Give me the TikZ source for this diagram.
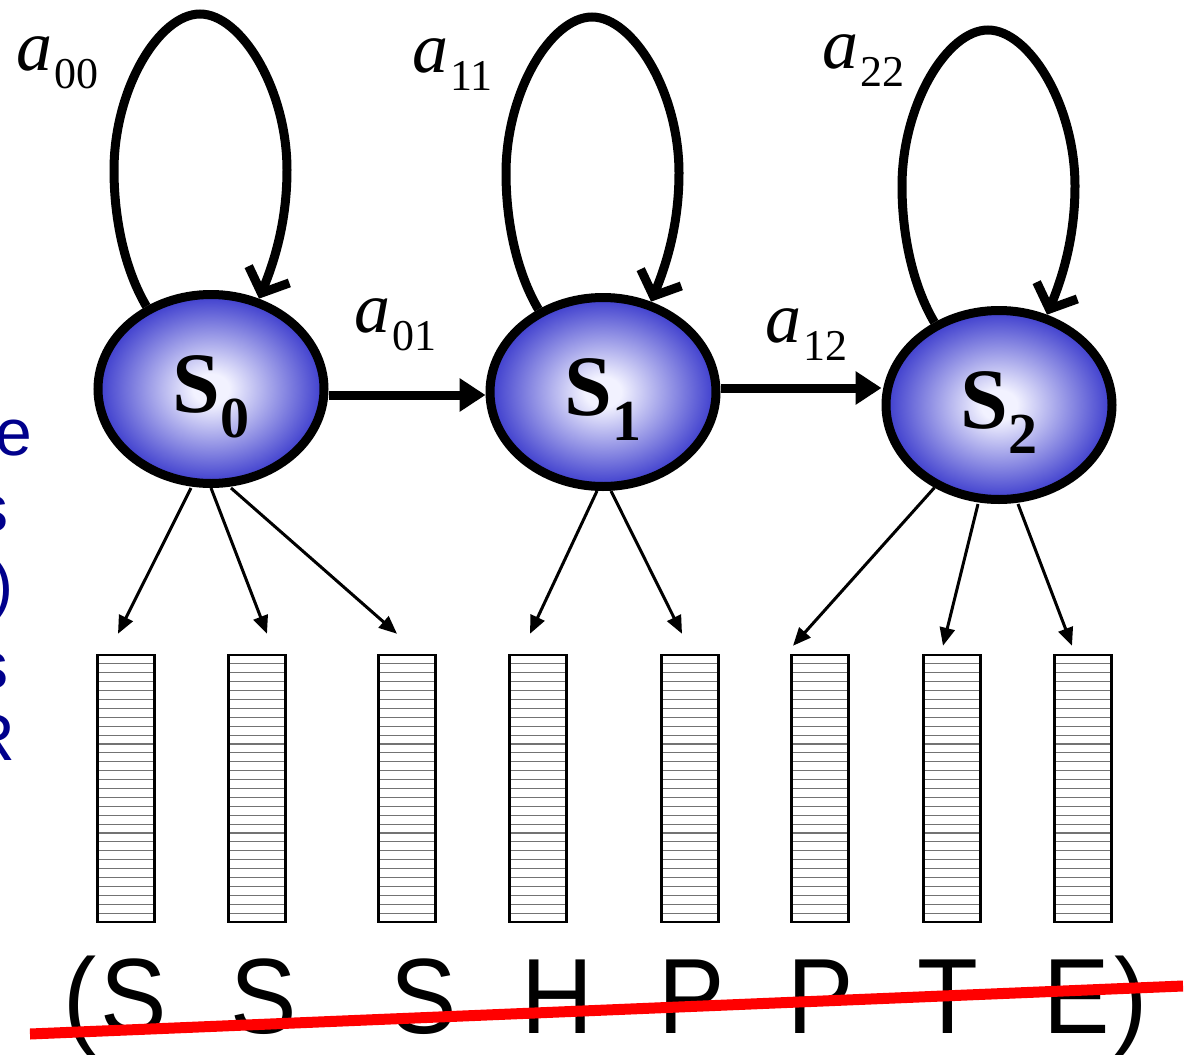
\documentclass[tikz,border=0pt]{standalone}
\usepackage{fontspec}
\usepackage{graphicx}
\setmainfont{Liberation Serif}
\newfontfamily\arialfont{Liberation Sans}
\usetikzlibrary{arrows.meta,shapes.geometric,calc}
\definecolor{sinner}{RGB}{242,242,255}
\definecolor{souter}{RGB}{60,60,205}
\definecolor{navytxt}{RGB}{0,0,140}
\pgfdeclareradialshading{sball}{\pgfpoint{0bp}{0bp}}{color(0bp)=(sinner); color(4bp)=(sinner); color(25bp)=(souter); color(50bp)=(souter)}
\newcommand{\narrowtxt}[1]{\scalebox{0.93}[1]{#1}}
\tikzset{
  state/.style={ellipse, draw=black, line width=9pt, minimum width=226pt, minimum height=189pt,
    inner sep=0pt, shading=sball, font=\fontsize{86}{86}\selectfont\bfseries,
    text height=46pt, text depth=0pt},
  selfloop/.style={line width=9pt, -{Straight Barb[length=20pt,width=44pt]}},
  trans/.style={line width=9pt, -{Triangle[length=26pt,width=32pt]}},
  emit/.style={line width=3pt, -{Triangle[length=18pt,width=15pt]}},
  obsbar/.style={rectangle, draw=black, line width=2.5pt, minimum width=57pt, minimum height=267pt,
    inner sep=0pt, fill=white,
    path picture={\foreach \k in {1,...,29}{\draw[black!55, line width=1.1pt]
      ([yshift=-\k*8.9pt]path picture bounding box.north west) --
      ([yshift=-\k*8.9pt]path picture bounding box.north east);}}},
  prob/.style={anchor=base west, inner sep=0pt, font=\fontsize{72}{72}\selectfont},
  seq/.style={anchor=base, inner sep=0pt, font=\arialfont\fontsize{107}{107}\selectfont},
  cuttxt/.style={anchor=base east, inner sep=0pt, text=navytxt, font=\arialfont\fontsize{66}{66}\selectfont},
}
\begin{document}
\begin{tikzpicture}[x=1pt, y=-1pt]
\useasboundingbox (0,0) rectangle (1189,1055);
\fill[white] (0,0) rectangle (1189,1055);
\clip (0,0) rectangle (1189,1055);

% blue cut-off text at the left edge
\node[cuttxt] (t1) at (32,455) {e};
\node[cuttxt] (t2) at (9,531) {s};
\node[cuttxt] (t3) at (14,607) {)};
\node[cuttxt] (t4) at (9,688) {s};
\node[cuttxt] (t5) at (15,760) {R};

% states
\node[state] (s0) at (211,389) {S\raisebox{-25pt}{\fontsize{58}{58}\selectfont 0}};
\node[state] (s1) at (603,392) {S\raisebox{-25pt}{\fontsize{58}{58}\selectfont 1}};
\node[state] (s2) at (999,405) {S\raisebox{-25pt}{\fontsize{58}{58}\selectfont 2}};

% self loops
\foreach \s in {s0,s1,s2}{
  \draw[selfloop] (\s.128)
     .. controls ($(\s)+(-86,-119)$) and ($(\s)+(-97,-169)$) .. ($(\s)+(-97,-219)$)
     .. controls ($(\s)+(-97,-300)$) and ($(\s)+(-52,-375)$) .. ($(\s)+(-11,-375)$)
     .. controls ($(\s)+(30,-375)$) and ($(\s)+(76,-300)$) .. ($(\s)+(76,-219)$)
     .. controls ($(\s)+(76,-169)$) and ($(\s)+(64,-129)$) .. (\s.62);
}

% transitions
\draw[trans] ([yshift=-6pt]s0.east) -- ([yshift=-6pt]s0.east -| s1.west);
\draw[trans] ([yshift=4pt]s1.east) -- ([yshift=4pt]s1.east -| s2.west);

% labels
\node[prob] (a00) at (16,70) {\textit{a}\kern2pt\raisebox{-18pt}{\fontsize{44}{44}\selectfont 00}};
\node[prob] (a11) at (412,72) {\textit{a}\kern2pt\raisebox{-18pt}{\fontsize{44}{44}\selectfont 11}};
\node[prob] (a22) at (822,68) {\textit{a}\kern2pt\raisebox{-18pt}{\fontsize{44}{44}\selectfont 22}};
\node[prob] (a01) at (354,332) {\textit{a}\kern2pt\raisebox{-18pt}{\fontsize{44}{44}\selectfont 01}};
\node[prob] (a12) at (765,342) {\textit{a}\kern2pt\raisebox{-18pt}{\fontsize{44}{44}\selectfont 12}};

% observation bars
\foreach \n/\x in {1/126,2/257,3/407,4/538,5/690,6/820,7/952,8/1083}{
  \node[obsbar] (b\n) at (\x,788.5) {};
}

% emissions
\draw[emit] ([xshift=-20pt]s0.south) -- ([xshift=-8pt,yshift=20pt]b1.north);
\draw[emit] (s0.south) -- ([xshift=10pt,yshift=20pt]b2.north);
\draw[emit] ([xshift=20pt]s0.south) -- ([xshift=-10pt,yshift=20pt]b3.north);
\draw[emit] ([xshift=-6pt]s1.south) -- ([xshift=-8pt,yshift=20pt]b4.north);
\draw[emit] ([xshift=8pt]s1.south) -- ([xshift=-8pt,yshift=20pt]b5.north);
\draw[emit] (s2.232) -- ([xshift=-27pt,yshift=8pt]b6.north);
\draw[emit] ([xshift=-21pt]s2.south) -- ([xshift=-9pt,yshift=8pt]b7.north);
\draw[emit] ([xshift=19pt]s2.south) -- ([xshift=-11pt,yshift=8pt]b8.north);

% sequence
\node[seq] (lp) at (80,1033) {\narrowtxt{(}};
\node[seq] (l1) at (134,1033) {\narrowtxt{S}};
\node[seq] (l2) at (264,1033) {\narrowtxt{S}};
\node[seq] (l3) at (424,1033) {\narrowtxt{S}};
\node[seq] (l4) at (557,1033) {\narrowtxt{H}};
\node[seq] (l5) at (692,1033) {\narrowtxt{P}};
\node[seq] (l6) at (821,1033) {\narrowtxt{P}};
\node[seq] (l7) at (948,1033) {\narrowtxt{T}};
\node[seq] (l8) at (1077,1033) {\narrowtxt{E}};
\node[seq] (rp) at (1131,1033) {\narrowtxt{)}};

% strike-through
\coordinate (rs) at (30,1034);
\coordinate (re) at (1183,986);
\draw[red, line width=11pt] (rs) -- (re);
\end{tikzpicture}
\end{document}
